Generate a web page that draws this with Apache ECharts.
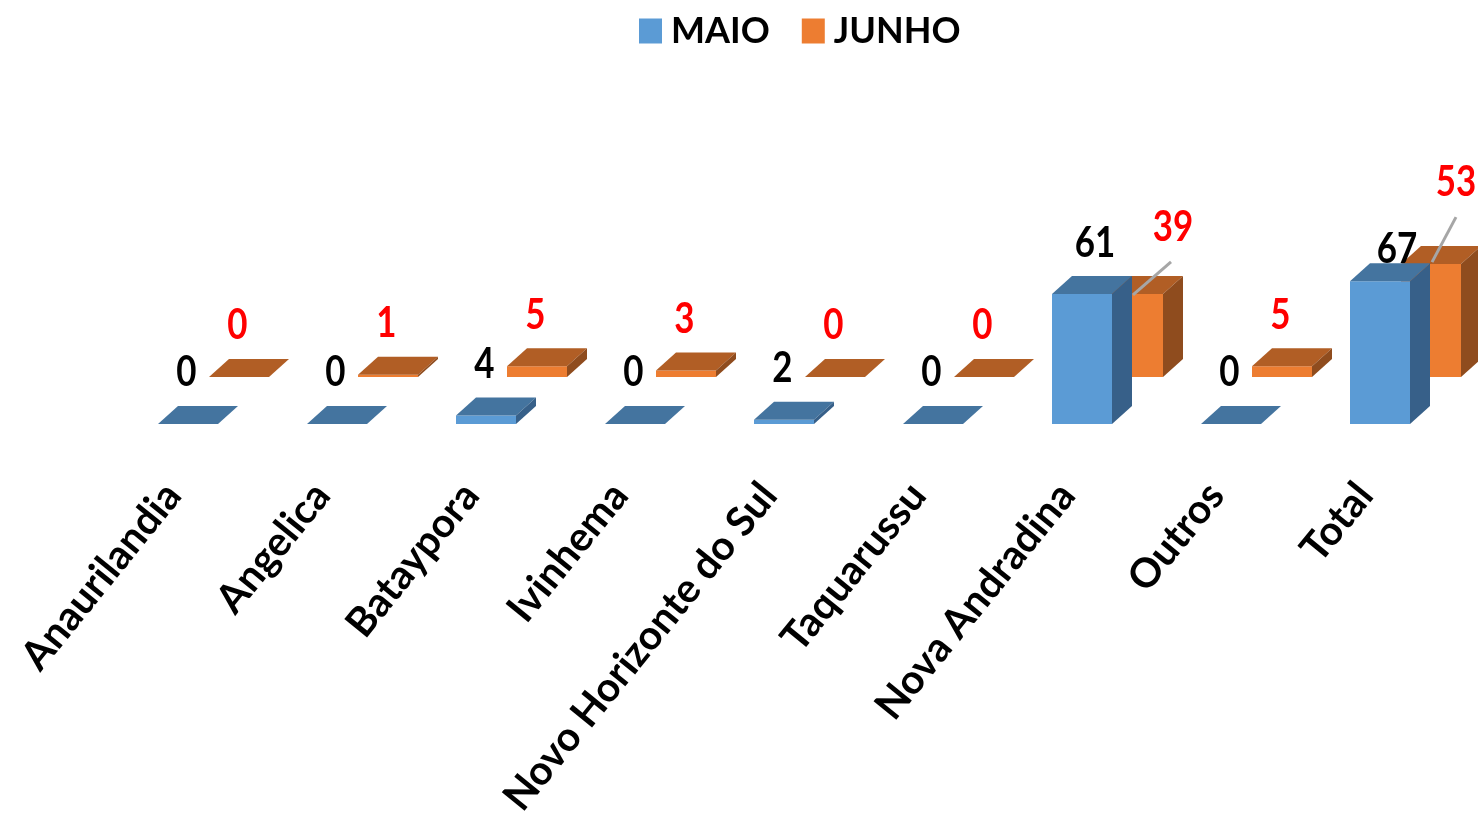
<!DOCTYPE html>
<html><head><meta charset="utf-8">
<style>html,body{margin:0;padding:0;background:#fff}#c{width:1478px;height:817px}</style>
<script src="https://cdn.jsdelivr.net/npm/echarts@6/dist/echarts.min.js"></script>
</head><body><div id="c"></div>
<script>
const categories = ['Anaurilandia','Angelica','Bataypora','Ivinhema','Novo Horizonte do Sul','Taquarussu','Nova Andradina','Outros','Total'];
const maio = [0,0,4,0,2,0,61,0,67];
const junho = [0,1,5,3,0,0,39,5,53];

// drawing constants (kept apart from the data)
const FONT = 'Lato';
const DX = 20, DY = 18, BAR_W = 60;
const maioStyle = {name:'MAIO', front:'#5B9BD5', top:'#44749F', side:'#376089', label:'#000', xOff:-20, yOff:0};
const junhoStyle = {name:'JUNHO', front:'#ED7D31', top:'#B15E25', side:'#8F4C1E', label:'#FF0000', xOff:31, yOff:-47};
const labelShift = {
  MAIO: {6:[43,-50], 8:[47,-32]},
  JUNHO: {6:[70,-66], 8:[55,-81]}
};
const leaders = {JUNHO: {6:[30,1,68,-32], 8:[31,-2,55,-47]}};

function render3d(st){
  return function(params, api){
    const i = api.value(0), v = api.value(1);
    const c = api.coord([i, v]), b = api.coord([i, 0]);
    const x = c[0] + st.xOff, yt = c[1] + st.yOff, yb = b[1] + st.yOff;
    const r = x + BAR_W;
    const kids = [];
    if (v > 0) kids.push({type:'rect', shape:{x:x, y:yt, width:BAR_W, height:yb-yt}, style:{fill:st.front}});
    kids.push({type:'polygon', shape:{points:[[x,yt],[x+DX,yt-DY],[r+DX,yt-DY],[r,yt]]}, style:{fill:st.top}});
    if (v > 0) kids.push({type:'polygon', shape:{points:[[r,yt],[r+DX,yt-DY],[r+DX,yb-DY],[r,yb]]}, style:{fill:st.side}});
    const ld = (leaders[st.name]||{})[i];
    if (ld) kids.push({type:'line', shape:{x1:x+ld[0], y1:yt+ld[1], x2:x+ld[2], y2:yt+ld[3]}, style:{stroke:'#A6A6A6', lineWidth:3}});
    const s = labelShift[st.name][i] || [28.5,-51];
    kids.push({type:'text', x:x+s[0], y:yt+s[1], scaleX:0.97, scaleY:1.15,
      style:{text:String(v), x:0, y:0, align:'center', verticalAlign:'middle',
      font:'bold 36px '+FONT, fill:st.label}});
    return {type:'group', children:kids};
  };
}
function pairs(a){ return a.map((v,i)=>[i,v]); }

const chart = echarts.init(document.getElementById('c'), null, {renderer:'canvas'});
chart.setOption({
  animation:false,
  backgroundColor:'#fff',
  legend:{
    top:8, left:634, itemWidth:23, itemHeight:25, itemGap:32, icon:'rect',
    selectedMode:false,
    textStyle:{fontFamily:FONT, fontWeight:'bold', fontSize:36, color:'#000', padding:[0,0,0,4]},
    data:['MAIO','JUNHO']
  },
  grid:{left:103.5, width:1341, top:211, height:213, containLabel:false, outerBoundsMode:'none'},
  xAxis:{type:'category', data:categories,
    axisLine:{show:false}, axisTick:{show:false},
    axisLabel:{interval:0, rotate:51, margin:58, padding:[0,8,0,0], fontFamily:FONT, fontWeight:'bold', fontSize:40.5, color:'#000'}},
  yAxis:{type:'value', min:0, max:100, show:false},
  series:[
    {type:'custom', name:'JUNHO', z:2, itemStyle:{color:junhoStyle.front}, renderItem:render3d(junhoStyle), data:pairs(junho), encode:{x:0,y:1}},
    {type:'custom', name:'MAIO', z:3, itemStyle:{color:maioStyle.front}, renderItem:render3d(maioStyle), data:pairs(maio), encode:{x:0,y:1}}
  ]
});
</script></body></html>
